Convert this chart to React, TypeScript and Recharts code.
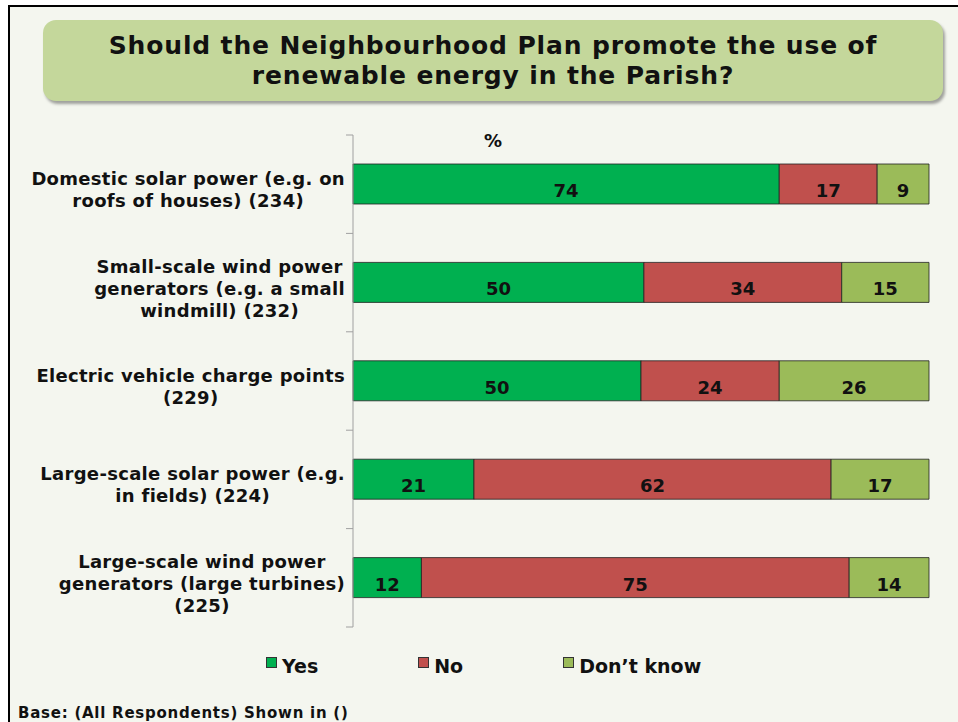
import { BarChart, Bar, XAxis, YAxis, LabelList } from "recharts";

// ── Data ────────────────────────────────────────────────────────────────────
const CATEGORIES = [
  "Domestic solar power (e.g. on\nroofs of houses) (234)",
  "Small-scale wind power\ngenerators (e.g. a small\nwindmill) (232)",
  "Electric vehicle charge points\n(229)",
  "Large-scale solar power (e.g.\nin fields) (224)",
  "Large-scale wind power\ngenerators (large turbines)\n(225)",
];
const YES = [74, 50, 50, 21, 12];
const NO = [17, 34, 24, 62, 75];
const DONT_KNOW = [9, 15, 26, 17, 14];

const SERIES = [
  { key: "yes", name: "Yes", color: "#00B050" },
  { key: "no", name: "No", color: "#C0504D" },
  { key: "dk", name: "Don\u2019t know", color: "#9BBB59" },
];

const TITLE = ["Should the Neighbourhood Plan promote the use of", "renewable energy in the Parish?"];
const FONT = "'DejaVu Sans', Verdana, sans-serif";
const BG = "#F4F6EF";
const AXIS_GREY = "#A0A0A0";
const LABEL_LS = 0.3;

const data = CATEGORIES.map((cat, i) => ({ cat, yes: YES[i], no: NO[i], dk: DONT_KNOW[i] }));

// measure text so each label block is centred but right-aligned as a whole
let ctx: CanvasRenderingContext2D | null = null;
function textWidth(s: string, font: string, ls = 0) {
  if (!ctx) ctx = document.createElement("canvas").getContext("2d");
  if (!ctx) return s.length * 10;
  ctx.font = font;
  return ctx.measureText(s).width + s.length * ls;
}

// ── Category tick: multi-line centred block + tick marks at band edges ─────
function CategoryTick(props: any) {
  const { x, y, payload, index, visibleTicksCount } = props;
  const half = payload?.offset || 49.2;
  const axisX = x + 8;
  const lines = String(payload.value).split("\n");
  const maxW = Math.max(...lines.map((l) => textWidth(l, `bold 18px ${FONT}`, LABEL_LS)));
  const cx = x - maxW / 2;
  const first = y + 12 - (lines.length - 1) * 11;
  const isLast = index === (visibleTicksCount ?? CATEGORIES.length) - 1;
  return (
    <g>
      <line x1={axisX - 7} x2={axisX} y1={y - half} y2={y - half} stroke={AXIS_GREY} />
      {isLast && <line x1={axisX - 7} x2={axisX} y1={y + half} y2={y + half} stroke={AXIS_GREY} />}
      <text textAnchor="middle" fontFamily={FONT} fontWeight="bold" fontSize={18} letterSpacing={LABEL_LS} fill="#111">
        {lines.map((l, i) => (
          <tspan key={i} x={cx} y={first + i * 22}>{l}</tspan>
        ))}
      </text>
    </g>
  );
}

function ValueLabel(props: any) {
  const { x, y, width, height, value } = props;
  return (
    <text
      x={x + width / 2}
      y={y + height / 2 + 13}
      textAnchor="middle"
      fontFamily={FONT}
      fontWeight="bold"
      fontSize={18}
      fill="#111"
    >
      {value}
    </text>
  );
}

export default function App() {
  return (
    <div style={{ position: "absolute", left: 0, top: 0, width: 958, height: 722, overflow: "hidden", background: "#fff" }}>
      {/* panel with left/top frame */}
      <div
        style={{
          position: "absolute", left: 8, top: 5, width: 960, height: 730,
          background: BG, borderLeft: "2px solid #000", borderTop: "2px solid #000",
        }}
      />

      {/* title box */}
      <div
        style={{
          position: "absolute", left: 43, top: 20, width: 900, height: 81,
          background: "#C4D79B", borderRadius: 13,
          boxShadow: "2px 3px 3px rgba(0,0,0,0.35)",
          display: "flex", flexDirection: "column", alignItems: "center", justifyContent: "center",
          fontFamily: FONT, fontWeight: "bold", fontSize: 25, lineHeight: "30px", letterSpacing: 0.85, color: "#111",
        }}
      >
        {TITLE.map((t) => <div key={t}>{t}</div>)}
      </div>

      <div style={{ position: "absolute", left: 0, top: 0 }}>
        <BarChart
          width={958}
          height={722}
          data={data}
          layout="vertical"
          stackOffset="expand"
          barSize={40}
          margin={{ top: 135, right: 29, bottom: 95, left: 0 }}
        >
          <XAxis type="number" hide domain={[0, 1]} />
          <YAxis
            type="category"
            dataKey="cat"
            width={353}
            axisLine={{ stroke: AXIS_GREY }}
            tickLine={false}
            tickSize={0}
            tickMargin={8}
            interval={0}
            tick={<CategoryTick />}
          />
          {SERIES.map((s) => (
            <Bar
              key={s.key}
              dataKey={s.key}
              name={s.name}
              stackId="a"
              fill={s.color}
              stroke="#222"
              strokeWidth={0.8}
              isAnimationActive={false}
            >
              <LabelList dataKey={s.key} content={<ValueLabel />} />
            </Bar>
          ))}
        </BarChart>
      </div>

      {/* percent marker */}
      <div style={{ position: "absolute", left: 484, top: 130, fontFamily: FONT, fontWeight: "bold", fontSize: 18, color: "#111" }}>%</div>

      {/* legend */}
      <div style={{ position: "absolute", left: 266, top: 655, display: "flex", gap: 100, fontFamily: FONT, fontWeight: "bold", fontSize: 19, color: "#111" }}>
        {SERIES.map((s) => (
          <div key={s.key} style={{ display: "flex", alignItems: "flex-start" }}>
            <span style={{ width: 9, height: 9, marginTop: 2, marginRight: 5, background: s.color, border: "1px solid #333" }} />
            <span style={{ lineHeight: "22px" }}>{s.name}</span>
          </div>
        ))}
      </div>

      {/* footer */}
      <div style={{ position: "absolute", left: 18, top: 704, fontFamily: FONT, fontWeight: "bold", fontSize: 15, letterSpacing: 0.75, color: "#111" }}>
        Base: (All Respondents) Shown in ()
      </div>
    </div>
  );
}
